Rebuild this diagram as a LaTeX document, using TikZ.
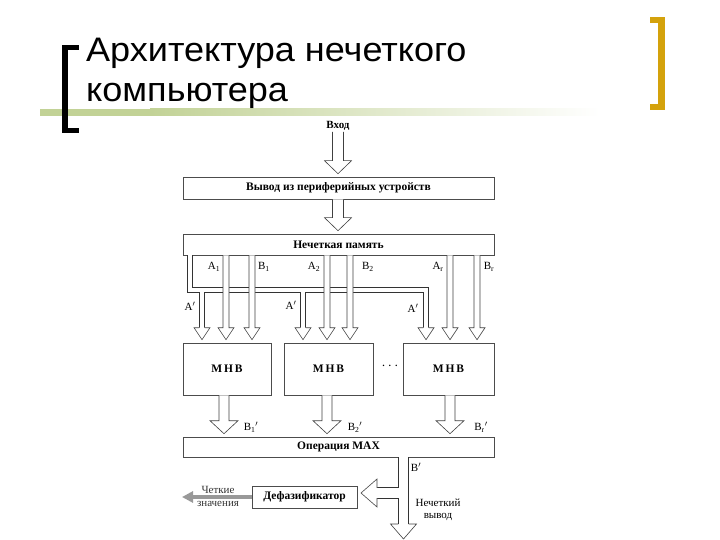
\documentclass[tikz,border=0pt]{standalone}
\usepackage{fontspec}
\setmainfont{Liberation Serif}
\newfontfamily\titlefont[FakeStretch=1.06]{Liberation Sans}
\usepackage{tikz}
\usetikzlibrary{calc,arrows.meta}

\definecolor{gold}{HTML}{D4A20C}
\definecolor{olive}{HTML}{C2D296}

% hollow block arrow going down: x, from node, to node, half shaft, half head, head length
\newcommand\blkdown[6]{%
  \filldraw[blk] let \p3=(#1,0), \p1=(#2.south), \p2=(#3.north) in
    (\x3-#4pt,\y1) -- (\x3-#4pt,\y2+#6pt+3pt) -- (\x3-#5pt,\y2+#6pt+3pt) -- (\x3,\y2+3pt)
    -- (\x3+#5pt,\y2+#6pt+3pt) -- (\x3+#4pt,\y2+#6pt+3pt) -- (\x3+#4pt,\y1);}

\begin{document}
\begin{tikzpicture}[x=1pt,y=-1pt,
  box/.style={draw=black!70, line width=0.6pt, minimum height=22pt, inner sep=0pt,
    font=\fontsize{11.5}{12}\selectfont\bfseries},
  blk/.style={draw=black!75, fill=white, line width=0.6pt, line join=miter},
  pipe/.style={draw=black!80, line width=0.9pt, double=white, double distance=#1},
  lbl/.style={font=\fontsize{11}{12}\selectfont, inner sep=1pt}]
\useasboundingbox (0,0) rectangle (720,540);

% title
\shade[left color=olive, right color=white] (150,109) rectangle (600,116);
\fill[olive] (40,109) rectangle (150,116);
\fill[black] (62,45) rectangle (68,133);
\fill[black] (62,45) rectangle (79,50);
\fill[black] (62,128) rectangle (79,133);
\fill[gold] (658,17) rectangle (665,110);
\fill[gold] (650,17) rectangle (665,23);
\fill[gold] (650,104) rectangle (665,110);
\node[anchor=base west, inner sep=0pt, font=\titlefont\fontsize{34}{38}\selectfont] (title1) at (86,62) {Архитектура нечеткого};
\node[anchor=base west, inner sep=0pt, font=\titlefont\fontsize{34}{38}\selectfont] (title2) at (86,102) {компьютера};

% blocks
\node[lbl, font=\fontsize{11}{12}\selectfont\bfseries] (in) at (338,126) {Вход};
\node[box, minimum width=311pt] (periph) at (338.5,188) {Вывод из периферийных устройств};
\node[box, minimum width=311pt, minimum height=21pt] (mem) at (338.5,244.5) {Нечеткая память};
\node[box, minimum width=88pt, minimum height=52pt] (mhb1) at (227,369) {М\,Н\,В};
\node[box, minimum width=89pt, minimum height=52pt] (mhb2) at (328.5,369) {М\,Н\,В};
\node[box, minimum width=91pt, minimum height=52pt] (mhb3) at (448.5,369) {М\,Н\,В};
\node[font=\Large] (dots) at (390,366) {$\cdots$};
\node[box, minimum width=311pt, minimum height=20pt] (max) at (338.5,447) {Операция MAX};
\node[box, minimum width=105pt] (defuzz) at (304.5,497) {Дефазификатор};

% input arrows
\blkdown{338}{in}{periph}{5.5}{13.5}{13}
\blkdown{338}{periph}{mem}{5.5}{13.5}{13}

% A' bus
\coordinate (busl) at (190,0);
\coordinate (busy) at (0,290);
\foreach \n/\px in {1/202,2/303,3/426} {
  \coordinate (ax\n) at (\px,0);
  \coordinate (hb\n) at ($(mhb\n.north -| ax\n)+(0,-15)$);
}
\draw[pipe=4.8pt] (mem.south -| busl) -- (busl |- busy) -- (ax3 |- busy) -- (hb3)
  (ax1 |- busy) -- (hb1) (ax2 |- busy) -- (hb2);
\foreach \n in {1,2,3}
  \filldraw[blk] (hb\n) ++(-2.85,0) -- ++(-5.15,0) -- ++(8,12) -- ++(8,-12) -- ++(-5.15,0);

% A, B columns
\foreach \px/\m in {226/1,252/1,327/2,350/2,450/3,477/3} {
  \blkdown{\px}{mem}{mhb\m}{3}{8}{12}
}
\foreach \px/\m in {224/1,327/2,450/3} {
  \blkdown{\px}{mhb\m}{max}{5}{14}{13}
}

% output
\coordinate (outx) at (403.5,0);
\coordinate (outh) at (403.5,524);
\coordinate (brh) at (377,493);
\draw[pipe=9.4pt] (max.south -| outx) -- (outh) (outx |- brh) -- (brh);
\filldraw[blk] (outh) ++(-5.15,0) -- ++(-7.85,0) -- ++(13,15) -- ++(13,-15) -- ++(-7.85,0);
\filldraw[blk] (brh) ++(0,-5.15) -- ++(0,-8.85) -- ++(-16,14) -- ++(16,14) -- ++(0,-8.85);
\coordinate (crisp) at (182,497);
\draw[gray!80, line width=4.5pt, -{Triangle[length=11pt,width=11pt]}] (defuzz.west) -- (crisp);

% labels
\node[lbl] (la1) at (214,267) {A\textsubscript{1}};
\node[lbl] (lb1) at (264,267) {B\textsubscript{1}};
\node[lbl] (la2) at (314,267) {A\textsubscript{2}};
\node[lbl] (lb2) at (368,267) {B\textsubscript{2}};
\node[lbl] (lar) at (438,267) {A\textsubscript{r}};
\node[lbl] (lbr) at (489,267) {B\textsubscript{r}};
\node[lbl] (lap1) at (190,306) {A$'$};
\node[lbl] (lap2) at (291,305) {A$'$};
\node[lbl] (lap3) at (413,308) {A$'$};
\node[lbl] (lbp1) at (251,427) {B\textsubscript{1}$'$};
\node[lbl] (lbp2) at (355,427) {B\textsubscript{2}$'$};
\node[lbl] (lbpr) at (481,427) {B\textsubscript{r}$'$};
\node[lbl] (lbp) at (416,467) {B$'$};
\node[lbl, align=center] (fuzzy) at (438,510) {Нечеткий\\вывод};
\node[lbl, align=center, text=black!80] (crisplbl) at (218,496) {Четкие\\[1pt]значения};
\end{tikzpicture}
\end{document}
